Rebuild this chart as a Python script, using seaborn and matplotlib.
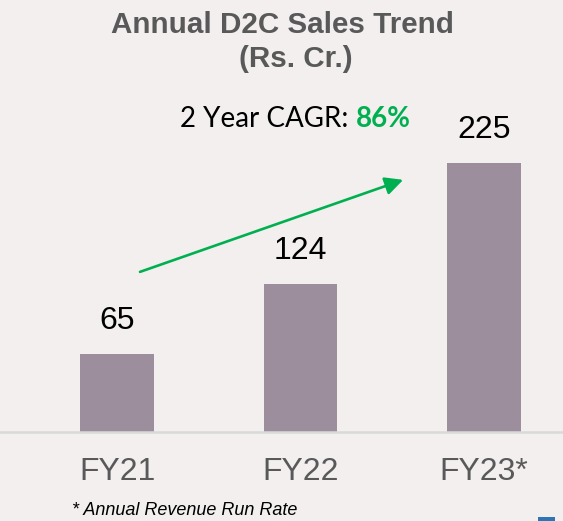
import matplotlib
matplotlib.use("Agg")
import matplotlib.pyplot as plt
import matplotlib.patches as mpatches
import seaborn as sns
import pandas as pd

# data
years = ["FY21", "FY22", "FY23*"]
sales = [65, 124, 225]
cagr_label = "86%"

W, H = 563, 521
BG = "#F3EFEF"
BAR = "#9D8E9E"
GREEN = "#00B050"
GREY = "#595959"

sns.set_theme(style="white")
plt.rcParams["font.family"] = ["Liberation Sans", "DejaVu Sans"]

df = pd.DataFrame({"year": years, "sales": sales})

fig = plt.figure(figsize=(W / 100, H / 100), dpi=100, facecolor=BG)
ax = fig.add_axes([0, 89 / H, 1, 432 / H])
ax.set_facecolor("none")

sns.barplot(data=df, x="year", y="sales", color=BAR, width=0.4,
            saturation=1, linewidth=0, ax=ax)

ax.set_xlim(-0.638, 2.43)
ax.set_ylim(0, 361.5)
ax.bar_label(ax.containers[0], labels=[str(v) for v in sales],
             padding=13, fontsize=23, color="black")

for s in ["top", "left", "right"]:
    ax.spines[s].set_visible(False)
ax.spines["bottom"].set_color("#D9D9D9")
ax.spines["bottom"].set_linewidth(1.8)
ax.set_yticks([])
ax.set_xlabel("")
ax.set_ylabel("")
ax.tick_params(axis="x", length=0, pad=18, labelsize=23, labelcolor=GREY)

# growth arrow
ax.annotate("", xy=(1.559, 211), xytext=(0.125, 134),
            arrowprops=dict(arrowstyle="-|>,head_length=0.9,head_width=0.45",
                            color=GREEN, lw=1.9, shrinkA=0, shrinkB=0))

def fx(px):
    return px / W

def fy(py):
    return 1 - py / H

fig.text(fx(282), fy(33), "Annual D2C Sales Trend", ha="center", va="baseline",
         fontsize=21.3, fontweight="bold", color=GREY)
fig.text(fx(296), fy(67), "(Rs. Cr.)", ha="center", va="baseline",
         fontsize=21.3, fontweight="bold", color=GREY)

t1 = fig.text(fx(180), fy(127), "2 Year CAGR: ", ha="left", va="baseline",
              fontsize=20, color="black", family=["Lato", "DejaVu Sans"])
fig.canvas.draw()
bb = t1.get_window_extent()
fig.text(bb.x1 / W, fy(127), cagr_label, ha="left", va="baseline",
         fontsize=20, fontweight="bold", color=GREEN, family=["Lato", "DejaVu Sans"])

fig.text(fx(72), fy(515), "* Annual Revenue Run Rate", ha="left", va="baseline",
         fontsize=13, style="italic", color="black")

# small blue slide marker bottom-right
fig.patches.append(mpatches.Rectangle((fx(538), 0), fx(555) - fx(538), 4 / H,
                                      transform=fig.transFigure,
                                      facecolor="#2E75B6", edgecolor="none"))

fig.savefig("out.png", dpi=100, facecolor=BG)
